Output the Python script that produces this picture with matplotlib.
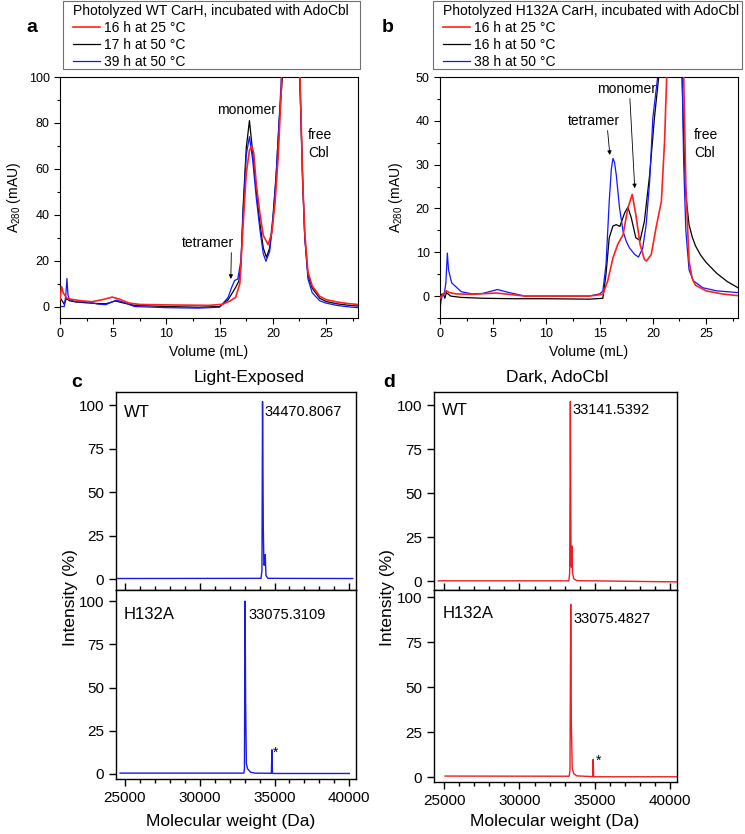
import matplotlib
matplotlib.use("Agg")
import matplotlib.pyplot as plt
from matplotlib.patches import Rectangle
from matplotlib.ticker import MultipleLocator

plt.rcParams['font.family'] = ['Liberation Sans', 'DejaVu Sans']
plt.rcParams['mathtext.default'] = 'regular'

# ---- panel a: photolyzed WT CarH, SEC traces ----
a_labels = ['16 h at 25 °C', '17 h at 50 °C', '39 h at 50 °C']
a_red_x = [0, 0.15, 0.3, 0.6, 1.0, 2.0, 3.0, 4.0, 4.9, 5.6, 6.5, 7.5, 10, 14, 15.3, 16.0, 16.5,
           16.9, 17.2, 17.5, 17.8, 18.0, 18.2, 18.45, 18.8, 19.1, 19.55, 19.9, 20.2, 20.5, 20.8,
           21.2, 21.7, 22.2, 22.5, 22.8, 23.0, 23.3, 23.7, 24.4, 25, 26, 27, 28]
a_red_y = [3, 8.7, 6, 3.8, 3.2, 2.5, 2.1, 3.0, 4.1, 3.2, 1.5, 0.9, 0.7, 0.5, 1.0, 2.5, 4,
           10, 35, 58, 68, 70, 67, 53, 40, 31, 27, 32, 45, 65, 95,
           200, 260, 200, 110, 55, 32, 15, 9, 4.5, 3, 2, 1.3, 0.9]
a_black_x = [0, 0.2, 0.4, 0.6, 0.9, 1.5, 2.5, 3.5, 4.3, 5.2, 6, 7, 10, 13, 15, 15.8, 16.2, 16.5,
             16.8, 17.0, 17.2, 17.5, 17.8, 18.1, 18.45, 18.8, 19.1, 19.4, 19.7, 20.0, 20.3, 20.6,
             20.9, 21.7, 22.5, 22.8, 23.0, 23.3, 23.7, 24.4, 25, 26, 27, 28]
a_black_y = [4, 2.5, 1, 3.5, 2.5, 2, 1.6, 1.3, 1.2, 2.4, 1.5, 0.5, 0, -0.3, 0, 3, 6, 8.3,
             11, 18, 43, 69, 81, 67.5, 50, 35.6, 25.5, 21.4, 25.5, 38.7, 57, 81.6,
             100, 260, 105, 55, 30, 13.5, 8, 3.6, 2.2, 1.2, 0.6, 0.2]
a_blue_x = [0, 0.4, 0.55, 0.65, 0.75, 0.9, 1.5, 2.6, 3.5, 4.3, 5.3, 6, 7, 10, 13, 15, 15.8, 16.1,
            16.4, 16.7, 17.0, 17.2, 17.5, 17.8, 18.1, 18.45, 18.8, 19.1, 19.35, 19.7, 20.0, 20.3,
            20.6, 20.8, 21.7, 22.5, 22.8, 23.0, 23.3, 23.7, 24.4, 25, 26, 27, 28]
a_blue_y = [0, 0, 5, 12.2, 5, 3, 2, 2.1, 1.1, 0.8, 2.8, 1.8, 0, -0.5, -0.7, -0.3, 4, 8,
            11.3, 12, 20, 40, 66, 74, 64, 47, 33, 23, 19.7, 24, 37, 56,
            82, 100, 260, 105, 55, 30, 12, 6, 2.5, 1.5, 0.5, -0.1, -0.5]

# ---- panel b: photolyzed H132A CarH, SEC traces ----
b_labels = ['16 h at 25 °C', '16 h at 50 °C', '38 h at 50 °C']
b_red_x = [0, 0.15, 0.3, 0.6, 0.9, 1.5, 3, 4.5, 5.3, 6.5, 8, 14, 15.3, 15.75, 16.25, 16.7, 17.2,
           17.65, 18.06, 18.4, 18.8, 19.2, 19.4, 19.85, 20.3, 20.8, 21.1, 21.3, 22.0, 22.6, 22.9,
           23.1, 23.4, 23.7, 24.0, 25, 26.5, 28]
b_red_y = [-0.5, 0, 0.5, 1.2, 0.8, 0.5, 0.4, 0.6, 0.7, 0.4, 0, 0, 0.4, 3.4, 8.7, 11.8, 14,
           20.1, 23.2, 18.6, 11.8, 8.4, 8.0, 9.5, 15.6, 21.6, 35.3, 50, 130, 120, 50,
           25, 8, 4, 2.5, 1.2, 0.5, 0.1]
b_black_x = [0, 0.2, 0.35, 0.45, 0.6, 1.0, 2, 4, 7, 10, 14, 15.3, 15.6, 15.9, 16.25, 16.56, 16.9,
             17.35, 17.65, 17.97, 18.4, 18.8, 19.2, 19.7, 20.15, 20.55, 21.0, 21.8, 22.75, 22.9,
             23.1, 23.4, 23.7, 24.0, 24.5, 25, 26, 27, 28]
b_black_y = [0, 0.5, 0.3, -0.5, 0.8, 0, -0.3, -0.5, -0.6, -0.6, -0.7, -0.5, 5, 13.3, 16, 16.3, 15.9,
             19, 20.3, 17.9, 13.3, 12.7, 17, 27.7, 40.7, 50, 100, 150, 50, 36,
             23, 16.3, 13.5, 11.5, 9.3, 7.7, 5.2, 3.3, 1.9]
b_blue_x = [0, 0.1, 0.2, 0.4, 0.55, 0.69, 0.8, 1.1, 2, 3, 4, 5.4, 6.5, 8, 10, 14, 15.0, 15.3,
            15.6, 15.9, 16.1, 16.25, 16.4, 16.56, 16.87, 17.2, 17.5, 17.8, 18.3, 18.65, 19.05,
            19.37, 19.7, 20.0, 20.45, 21.0, 21.8, 22.75, 22.9, 23.1, 23.4, 23.8, 24.7, 26, 28]
b_blue_y = [-3, -1, 0, 0.5, 3, 9.8, 6, 3, 1, 0.5, 0.6, 1.5, 0.8, 0, 0, 0, 0.5, 1.1,
            7.2, 21.6, 29, 31.4, 30.5, 27.7, 20.1, 14.8, 12.5, 11, 9.5, 8.9, 11,
            16.3, 26.2, 40.7, 50, 100, 150, 50, 30, 15, 6, 3.5, 1.9, 1.2, 0.8]

# ---- panels c, d: deconvoluted mass spectra ----
c_wt_x = [24400, 34100, 34160, 34200, 34250, 34290, 34330, 34380, 34430, 34560, 40230]
c_wt_y = [0.3, 0.4, 5, 102, 30, 8, 8, 14, 2, 0.4, 0.3]
c_mut_x = [24670, 32950, 32990, 33030, 33070, 33120, 33200, 33400, 33700, 34790, 34830, 34860,
           34900, 40000]
c_mut_y = [0.5, 0.5, 3, 100, 40, 6, 3, 1, 0.5, 0.4, 14, 0.5, 0.3, 0.3]
d_wt_x = [24620, 33280, 33330, 33376, 33420, 33450, 33480, 33520, 33600, 33800, 40400]
d_wt_y = [0.3, 0.3, 5, 102, 10, 8, 20, 5, 1.5, 0.4, -0.3]
d_mut_x = [25070, 33300, 33350, 33400, 33440, 33500, 33600, 33800, 34850, 34890, 34920, 40400]
d_mut_y = [0.7, 0.6, 4, 96, 30, 5, 2, 0.8, 0.4, 10, 0.3, 0.3]

c_masses = ['34470.8067', '33075.3109']
d_masses = ['33141.5392', '33075.4827']

W, H = 745, 834
fig = plt.figure(figsize=(W / 100, H / 100), dpi=100)


def box(l, t, r, b):
    # pixel box -> figure fraction rect
    return [l / W, 1 - b / H, (r - l) / W, (b - t) / H]


def sec_panel(rect, traces, labels, title, ylim, ymaj, ymin, frame_px):
    ax = fig.add_axes(rect)
    colors = ['#ff2020', 'black', '#1515ff']
    widths = [1.2, 0.9, 0.9]
    for (x, y), c, lw, lab, z in zip(traces, colors, widths, labels, [3, 2, 2]):
        ax.plot(x, y, color=c, lw=lw, label=lab, zorder=z)
    ax.set_xlim(0, 28)
    ax.set_ylim(*ylim)
    ax.xaxis.set_major_locator(MultipleLocator(5))
    ax.xaxis.set_minor_locator(MultipleLocator(2.5))
    ax.yaxis.set_major_locator(MultipleLocator(ymaj))
    ax.yaxis.set_minor_locator(MultipleLocator(ymin))
    ax.tick_params(which='both', direction='out', labelsize=9, top=False, right=False)
    ax.tick_params(which='major', length=4, width=0.8)
    ax.tick_params(which='minor', length=2, width=0.8)
    for s in ax.spines.values():
        s.set_linewidth(0.8)

    # legend without its own frame, boxed by a rectangle of the reference size
    l, t, r, b = frame_px
    ax.legend(title=title, loc='upper left', bbox_to_anchor=((l + 10) / W, 1 - 4.5 / H),
              bbox_transform=fig.transFigure, frameon=False, borderpad=0, borderaxespad=0,
              fontsize=10, title_fontsize=10, alignment='left', handlelength=1.95,
              handletextpad=0.25, labelspacing=0.2)
    fig.add_artist(Rectangle((l / W, 1 - b / H), (r - l) / W, (b - t) / H,
                             transform=fig.transFigure, fill=False, edgecolor='#707070',
                             lw=0.8))
    return ax


ax_a = sec_panel(box(60, 77, 358, 318),
                 [(a_red_x, a_red_y), (a_black_x, a_black_y), (a_blue_x, a_blue_y)],
                 a_labels, 'Photolyzed WT CarH, incubated with AdoCbl', (-5, 100), 20, 10,
                 (63, 1, 360, 69))
ax_b = sec_panel(box(440, 77, 738, 318),
                 [(b_red_x, b_red_y), (b_black_x, b_black_y), (b_blue_x, b_blue_y)],
                 b_labels, 'Photolyzed H132A CarH, incubated with AdoCbl', (-5, 50), 10, 5,
                 (433, 1, 742, 69))

arrow = dict(arrowstyle='-|>', lw=0.6, color='black', mutation_scale=6, shrinkA=0, shrinkB=0)
ax_a.text(17.5, 85.5, 'monomer', ha='center', va='center', fontsize=10)
ax_a.annotate('tetramer', xy=(16.05, 12), xytext=(13.9, 27.7), ha='center', va='center',
              fontsize=10, arrowprops=dict(arrow, relpos=(0.95, 0.0)))
ax_a.text(23.3, 70.8, 'free\nCbl', ha='left', va='center', fontsize=10, linespacing=1.3)

ax_b.annotate('monomer', xy=(18.3, 24.6), xytext=(17.55, 47.3), ha='center', va='center',
              fontsize=10, arrowprops=dict(arrow, relpos=(0.55, 0.0)))
ax_b.annotate('tetramer', xy=(15.96, 32.2), xytext=(14.5, 40), ha='center', va='center',
              fontsize=10, arrowprops=dict(arrow, relpos=(0.75, 0.0)))
ax_b.text(23.85, 34.7, 'free\nCbl', ha='left', va='center', fontsize=10, linespacing=1.3)

for xc in (209, 589):
    fig.text(xc / W, 1 - 352 / H, 'Volume (mL)', ha='center', va='center', fontsize=10)
for xc in (14, 396):
    fig.text(xc / W, 1 - 197 / H, 'A$_{280}$ (mAU)', rotation=90, ha='center', va='center',
             fontsize=10)


def ms_pair(left, right, top, mid, bottom, ylim_up, ylim_lo, xlim, color, data, names, masses,
            name_pos, mass_pos, star_pos):
    axu = fig.add_axes(box(left, top, right, mid))
    axl = fig.add_axes(box(left, mid, right, bottom), sharex=axu)
    for ax, (x, y), yl, nm, ms, npos, mpos in zip((axu, axl), data, (ylim_up, ylim_lo), names,
                                                   masses, name_pos, mass_pos):
        ax.plot(x, y, color=color, lw=1.0)
        ax.set_ylim(*yl)
        ax.set_yticks([0, 25, 50, 75, 100])
        ax.tick_params(axis='y', direction='out', length=5, width=1, labelsize=11, right=False)
        ax.text(npos[0], npos[1], nm, fontsize=12, ha='left', va='center')
        ax.text(mpos[0], mpos[1], ms, fontsize=10.5, ha='left', va='center')
        for s in ax.spines.values():
            s.set_linewidth(1.0)
    axu.set_xlim(*xlim)
    axu.tick_params(axis='x', bottom=False, top=False, labelbottom=False)
    axl.xaxis.set_major_locator(MultipleLocator(5000))
    axl.xaxis.set_minor_locator(MultipleLocator(1000))
    axl.tick_params(axis='x', which='both', direction='out', bottom=True, top=True,
                    labeltop=False, labelsize=11, width=1)
    axl.tick_params(axis='x', which='major', length=5)
    axl.tick_params(axis='x', which='minor', length=3)
    axl.text(star_pos[0], star_pos[1], '*', fontsize=10, ha='center', va='center')
    return axu, axl


ms_pair(116, 356, 392, 590, 779, (-6.3, 107.5), (-2.9, 106.4), (24400, 40450), '#1a1ae6',
        [(c_wt_x, c_wt_y), (c_mut_x, c_mut_y)], ['WT', 'H132A'], c_masses,
        [(24900, 96), (24900, 92.5)], [(34330, 96), (33290, 92)], (35100, 12))
ms_pair(434, 677, 392, 590, 782, (-4.9, 107.4), (-2.6, 104), (24336, 40445), '#ee1c25',
        [(d_wt_x, d_wt_y), (d_mut_x, d_mut_y)], ['WT', 'H132A'], d_masses,
        [(24850, 97), (24915, 91)], [(33545, 97), (33585, 88)], (35230, 9))

fig.text(248.7 / W, 1 - 377 / H, 'Light-Exposed', ha='center', va='center', fontsize=12.5)
fig.text(556.7 / W, 1 - 377 / H, 'Dark, AdoCbl', ha='center', va='center', fontsize=12.5)
for xc in (230.8, 555):
    fig.text(xc / W, 1 - 821.7 / H, 'Molecular weight (Da)', ha='center', va='center',
             fontsize=12.5)
for xc in (70, 388):
    fig.text(xc / W, 1 - 598 / H, 'Intensity (%)', rotation=90, ha='center', va='center',
             fontsize=12.5)

for lt, px, py in (('a', 32, 27), ('b', 388, 27), ('c', 77, 382), ('d', 389, 382)):
    fig.text(px / W, 1 - py / H, lt, fontsize=14, fontweight='bold', ha='center', va='center')

fig.savefig('out.png', dpi=100)
